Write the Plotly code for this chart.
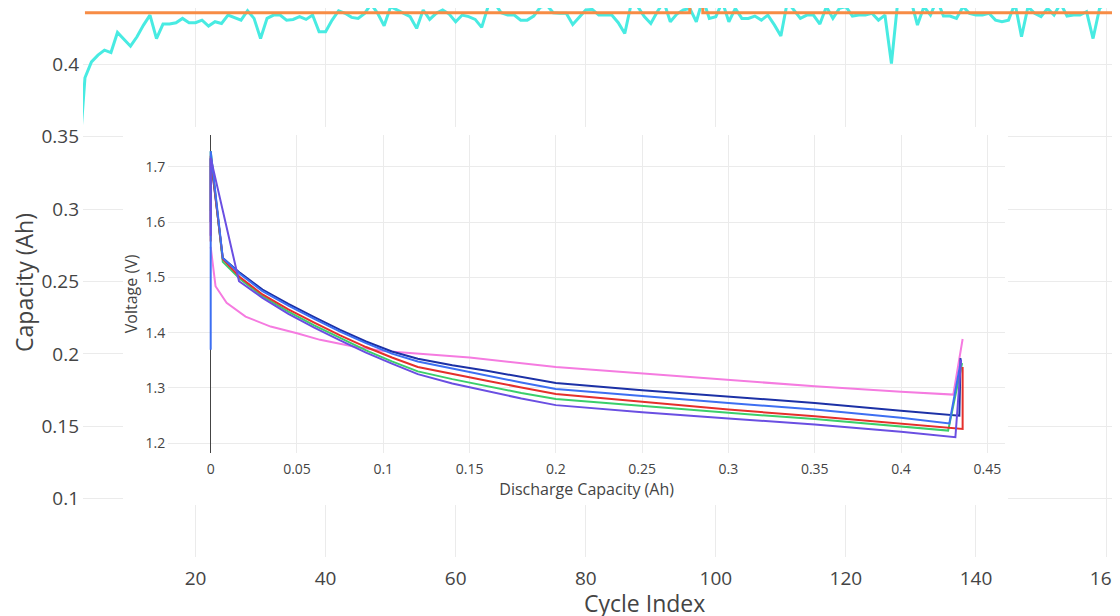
import plotly.graph_objects as go

# ---------------- data ----------------
# main chart: capacity per cycle (cyan) and reference capacity (orange step line)
capacity = [
    0.329, 0.3907, 0.4017, 0.4063, 0.4098, 0.4081, 0.4220, 0.4174, 0.4125, 0.4190,
    0.4271, 0.4340, 0.4178, 0.4278, 0.4278, 0.4287, 0.4317, 0.4287, 0.4287, 0.4305,
    0.4264, 0.4294, 0.4282, 0.4340, 0.4324, 0.4305, 0.4370, 0.4317, 0.4178, 0.4317,
    0.4340, 0.4340, 0.4305, 0.4310, 0.4329, 0.4310, 0.4340, 0.4225, 0.4225, 0.4305,
    0.4370, 0.4352, 0.4324, 0.4317, 0.4352, 0.4416, 0.4352, 0.4266, 0.4398, 0.4375,
    0.4352, 0.4329, 0.4248, 0.4375, 0.4310, 0.4352, 0.4375, 0.4347, 0.4294, 0.4340,
    0.4329, 0.4310, 0.4255, 0.4402, 0.4421, 0.4356, 0.4340, 0.4340, 0.4305, 0.4305,
    0.4333, 0.4393, 0.4409, 0.4356, 0.4352, 0.4352, 0.4275, 0.4329, 0.4375, 0.4379,
    0.4340, 0.4340, 0.4340, 0.4287, 0.4213, 0.4421, 0.4398, 0.4329, 0.4282, 0.4363,
    0.4432, 0.4294, 0.4347, 0.4375, 0.4386, 0.4294, 0.4452, 0.4317, 0.4329, 0.4432,
    0.4294, 0.4386, 0.4317, 0.4317, 0.4333, 0.4305, 0.4340, 0.4272, 0.4195, 0.4432,
    0.4375, 0.4317, 0.4340, 0.4340, 0.4278, 0.4398, 0.4317, 0.4386, 0.4398, 0.4333,
    0.4340, 0.4340, 0.4352, 0.4305, 0.4340, 0.4005, 0.4447, 0.4477, 0.4442, 0.4271,
    0.4398, 0.4340, 0.4447, 0.4333, 0.4333, 0.4317, 0.4398, 0.4352, 0.4340, 0.4340,
    0.4352, 0.4305, 0.4294, 0.4305, 0.4421, 0.4190, 0.4398, 0.4352, 0.4329, 0.4386,
    0.4340, 0.4421, 0.4333, 0.4340, 0.4340, 0.4363, 0.4178, 0.4386, 0.4421, 0.4457,
    0.4467, 0.4430,
]
cycle_index = list(range(2, 2 + len(capacity)))
ref_cycles = [3, 96, 98, 163]
ref_capacity = [0.4356, 0.4600, 0.4356, 0.4356]

# inset: voltage vs discharge capacity for six cycles
pink_cap = [0, 0.0028, 0.0092, 0.0202, 0.0347, 0.05, 0.0634, 0.0827, 0.1, 0.121, 0.15, 0.2, 0.25, 0.3, 0.35, 0.4, 0.4303, 0.4357]
pink_v = [1.555, 1.484, 1.454, 1.429, 1.411, 1.399, 1.387, 1.375, 1.367, 1.362, 1.355, 1.338, 1.326, 1.314, 1.303, 1.293, 1.288, 1.3885]

navy_cap = [0, 0, 0.007, 0.017, 0.03, 0.045, 0.06, 0.075, 0.09, 0.105, 0.12, 0.14, 0.16, 0.18, 0.2, 0.25, 0.3, 0.35, 0.4, 0.4338, 0.4345]
navy_v = [1.600, 1.715, 1.535, 1.508, 1.478, 1.452, 1.428, 1.405, 1.384, 1.366, 1.353, 1.341, 1.331, 1.320, 1.309, 1.296, 1.284, 1.273, 1.259, 1.250, 1.354]

green_cap = [0, 0, 0.007, 0.017, 0.03, 0.045, 0.06, 0.075, 0.09, 0.105, 0.12, 0.14, 0.16, 0.18, 0.2, 0.25, 0.3, 0.35, 0.4, 0.4273, 0.4354]
green_v = [1.620, 1.728, 1.528, 1.497, 1.466, 1.438, 1.413, 1.390, 1.368, 1.348, 1.330, 1.316, 1.303, 1.291, 1.280, 1.267, 1.255, 1.244, 1.231, 1.223, 1.345]

red_cap = [0, 0, 0.007, 0.017, 0.03, 0.045, 0.06, 0.075, 0.09, 0.105, 0.12, 0.14, 0.16, 0.18, 0.2, 0.25, 0.3, 0.35, 0.4, 0.4357, 0.4357]
red_v = [1.565, 1.720, 1.533, 1.500, 1.469, 1.442, 1.418, 1.395, 1.374, 1.355, 1.338, 1.325, 1.313, 1.301, 1.289, 1.275, 1.261, 1.249, 1.236, 1.226, 1.338]

blue_cap = [0, 0, 0.007, 0.017, 0.03, 0.045, 0.06, 0.075, 0.09, 0.105, 0.12, 0.14, 0.16, 0.18, 0.2, 0.25, 0.3, 0.35, 0.4, 0.428, 0.4348]
blue_v = [1.369, 1.728, 1.535, 1.506, 1.475, 1.449, 1.425, 1.402, 1.381, 1.362, 1.348, 1.335, 1.323, 1.310, 1.298, 1.285, 1.273, 1.261, 1.246, 1.236, 1.351]

purple_cap = [0, 0, 0.0164, 0.03, 0.045, 0.06, 0.075, 0.09, 0.105, 0.12, 0.14, 0.16, 0.18, 0.2, 0.25, 0.3, 0.35, 0.4, 0.4315, 0.4348]
purple_v = [1.575, 1.716, 1.493, 1.463, 1.434, 1.409, 1.386, 1.364, 1.344, 1.325, 1.308, 1.294, 1.281, 1.269, 1.256, 1.245, 1.234, 1.221, 1.211, 1.351]

inset_series = [
    ("pink", pink_cap, pink_v, "#F57BE0"),
    ("navy", navy_cap, navy_v, "#1C31A6"),
    ("green", green_cap, green_v, "#3BCF6B"),
    ("red", red_cap, red_v, "#E5302C"),
    ("blue", blue_cap, blue_v, "#3D6FF2"),
    ("purple", purple_cap, purple_v, "#6A4FE2"),
]

# ---------------- layout geometry (screen pixels; page body has an 8px margin) ----------------
PAGE = 8
W, H = 1198, 616
PLOT_L, PLOT_T, PLOT_B = 83, 8, 557          # screen px of main plot area
ML = PLOT_L - PAGE
MT = PLOT_T - PAGE
MB = H - (PLOT_B - PAGE)
MR = 0
PLOT_R = W + PAGE - MR

x_range = [2.7, 20 + (PLOT_R - 195.5) / 6.504]
y_range = [0.35 - (PLOT_B - 136.7) / 1448.0, 0.35 + (136.7 - PLOT_T) / 1448.0]


def px_to_x(px):
    return x_range[0] + (px - PLOT_L) / (PLOT_R - PLOT_L) * (x_range[1] - x_range[0])


def px_to_y(py):
    return y_range[1] - (py - PLOT_T) / (PLOT_B - PLOT_T) * (y_range[1] - y_range[0])


def dom_x(px):
    return (px - PLOT_L) / (PLOT_R - PLOT_L)


def dom_y(py):
    return (PLOT_B - py) / (PLOT_B - PLOT_T)


# inset plot area in screen px
IN_L, IN_R, IN_T, IN_B = 168.3, 1005, 134.5, 453.3
inset_x_range = [(IN_L - 210.7) / 1725.8, (IN_R - 210.7) / 1725.8]
inset_y_range = [1.2 - (IN_B - 443.3) / 553.2, 1.7 + (166.7 - IN_T) / 553.2]

GRID = "#EBEBEB"
TXT = "#444444"

fig = go.Figure()

fig.add_trace(go.Scatter(
    x=cycle_index, y=capacity, mode="lines",
    line=dict(color="#48EBE2", width=3), showlegend=False,
    xaxis="x", yaxis="y",
))
fig.add_trace(go.Scatter(
    x=ref_cycles, y=ref_capacity, mode="lines",
    line=dict(color="#F78C45", width=3, shape="hv"), showlegend=False,
    xaxis="x", yaxis="y",
))

for name, cap, v, col in inset_series:
    fig.add_trace(go.Scatter(
        x=cap, y=v, mode="lines", name=name,
        line=dict(color=col, width=2), showlegend=False,
        xaxis="x2", yaxis="y2",
    ))

# white panel behind the inset (hides the main chart's gridlines there)
fig.add_shape(
    type="rect", xref="x", yref="y", layer="between",
    x0=px_to_x(123), x1=px_to_x(1008), y0=px_to_y(505), y1=px_to_y(127),
    fillcolor="white", line=dict(width=0),
)

# main x-axis title, placed where the reference shows it
fig.add_annotation(
    text="Cycle Index", xref="paper", yref="paper",
    x=dom_x(644.5), y=dom_y(603), xanchor="center", yanchor="middle",
    showarrow=False, font=dict(size=23, color=TXT),
)

fig.update_layout(
    width=W, height=H,
    template="plotly_white",
    paper_bgcolor="white", plot_bgcolor="white",
    margin=dict(l=ML, r=MR, t=MT, b=MB, pad=0),
    font=dict(family="Open Sans, verdana, arial, sans-serif", color=TXT),
    showlegend=False,
    xaxis=dict(
        range=x_range, dtick=20, tick0=0, showgrid=True, gridcolor=GRID,
        zeroline=False, showline=False, automargin=False,
        tickfont=dict(size=19, color=TXT), ticklabelstandoff=8,
    ),
    yaxis=dict(
        range=y_range, dtick=0.05, tick0=0, showgrid=True, gridcolor=GRID,
        zeroline=False, showline=False, automargin=False,
        tickfont=dict(size=19, color=TXT), ticklabelstandoff=3,
        title=dict(text="Capacity (Ah)", font=dict(size=23, color=TXT), standoff=3),
    ),
    xaxis2=dict(
        domain=[dom_x(IN_L), dom_x(IN_R)], anchor="y2",
        range=inset_x_range, dtick=0.05, tick0=0,
        showgrid=True, gridcolor=GRID,
        zeroline=True, zerolinecolor="#444444", zerolinewidth=1,
        showline=False, automargin=False,
        tickfont=dict(size=14, color=TXT), ticklabelstandoff=6,
        title=dict(text="Discharge Capacity (Ah)", font=dict(size=16, color=TXT), standoff=1),
    ),
    yaxis2=dict(
        domain=[dom_y(IN_B), dom_y(IN_T)], anchor="x2",
        range=inset_y_range, dtick=0.1, tick0=0,
        showgrid=True, gridcolor=GRID, zeroline=False,
        showline=False, automargin=False,
        tickfont=dict(size=14, color=TXT), ticklabelstandoff=2,
        title=dict(text="Voltage (V)", font=dict(size=16, color=TXT), standoff=4),
    ),
)

fig.write_html("out.html")
